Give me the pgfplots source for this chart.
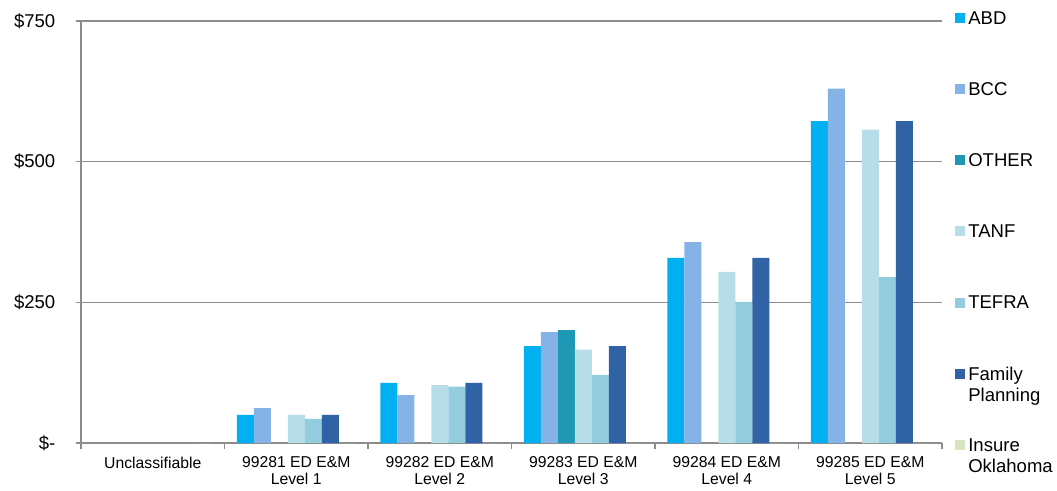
\documentclass[border=0pt]{standalone}
\usepackage{pgfplots}
\pgfplotsset{compat=1.18}
\usepackage{fontspec}
\setmainfont{Liberation Sans}
\definecolor{cABD}{HTML}{00B0F0}
\definecolor{cBCC}{HTML}{85B3E6}
\definecolor{cOTH}{HTML}{1F98B5}
\definecolor{cTANF}{HTML}{B7DEE8}
\definecolor{cTEFRA}{HTML}{93CDDD}
\definecolor{cFP}{HTML}{3063A5}
\definecolor{cIO}{HTML}{D7E4BD}
\definecolor{axgray}{HTML}{8C8C8C}
\pgfplotsset{sqlegend/.style={legend image code/.code={\fill[##1,draw=none] (0pt,-3.0pt) rectangle (7.5pt,4.5pt);}}}
\begin{document}
\begin{tikzpicture}
\path[use as bounding box] (0,0) rectangle (792.75pt,367.5pt);
\begin{axis}[
  at={(60.75pt,35.25pt)}, anchor=south west,
  scale only axis, width=645.75pt, height=316.5pt,
  ybar=0pt, bar width=12.75pt,
  xmin=-0.5, xmax=5.5, ymin=0, ymax=750,
  axis x line*=bottom, axis y line*=left,
  axis line style={axgray, line width=0.9pt},
  ytick={0,250,500,750},
  yticklabels={\$-,\$250,\$500,\$750},
  ymajorgrids, grid style={axgray, line width=0.9pt},
  xtick={0,1,2,3,4,5},
  xticklabels={Unclassifiable,99281 ED E\&M\\Level 1,99282 ED E\&M\\Level 2,99283 ED E\&M\\Level 3,99284 ED E\&M\\Level 4,99285 ED E\&M\\Level 5},
  minor xtick={-0.5,0.5,1.5,2.5,3.5,4.5,5.5},
  tick align=outside,
  major tick length=3.75pt, minor tick length=4.5pt,
  tick style={axgray, line width=0.9pt},
  major x tick style={draw=none},
  xticklabel style={align=center, anchor=north, font=\fontsize{11.8}{12.75}\selectfont, yshift=-3pt},
  yticklabel style={anchor=east, font=\fontsize{13.9}{15}\selectfont, xshift=-12pt},
  legend cell align=left,
  legend style={draw=none, fill=none, at={(1.0105,1.031)}, anchor=north west,
    font=\fontsize{13.9}{15.75}\selectfont, row sep=41.4pt, column sep=0pt,
    nodes={text height=10pt, text depth=2pt, inner sep=0pt, inner xsep=2.25pt}},
]
\addplot[fill=cABD, draw=none, sqlegend] coordinates {(1,50) (2,107) (3,172) (4,329) (5,572)};
\addplot[fill=cBCC, draw=none, sqlegend] coordinates {(1,62) (2,85) (3,197) (4,357) (5,630)};
\addplot[fill=cOTH, draw=none, sqlegend] coordinates {(3,201)};
\addplot[fill=cTANF, draw=none, sqlegend] coordinates {(1,50) (2,103) (3,166) (4,304) (5,557)};
\addplot[fill=cTEFRA, draw=none, sqlegend] coordinates {(1,43) (2,100) (3,121) (4,251) (5,295)};
\addplot[fill=cFP, draw=none, sqlegend] coordinates {(1,50) (2,107) (3,172) (4,329) (5,572)};
\addplot[fill=cIO, draw=none, sqlegend] coordinates {(0,0) (1,0) (2,0) (3,0) (4,0) (5,0)};
\legend{ABD,BCC,OTHER,TANF,TEFRA,{\begin{tabular}[t]{@{}l@{}}Family\\Planning\end{tabular}},{\begin{tabular}[t]{@{}l@{}}Insure\\Oklahoma\end{tabular}}}
\end{axis}
\end{tikzpicture}
\end{document}
